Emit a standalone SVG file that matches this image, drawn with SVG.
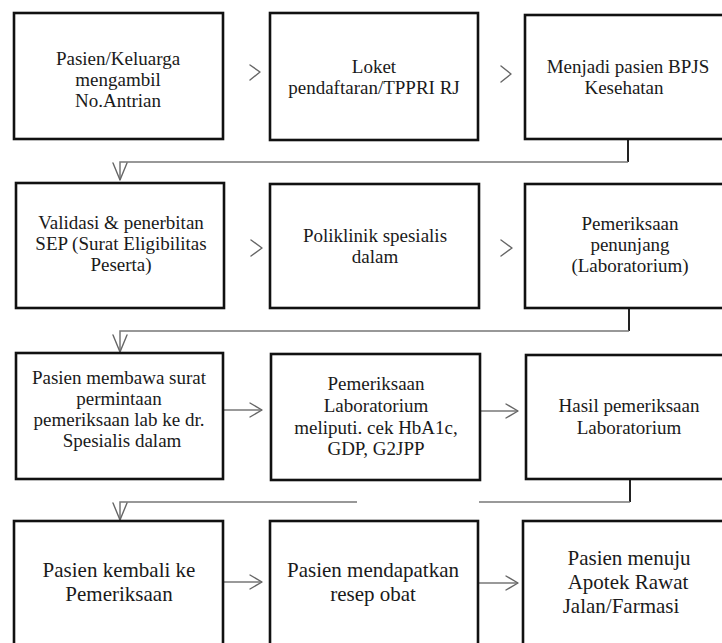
<svg xmlns="http://www.w3.org/2000/svg" width="722" height="643" viewBox="0 0 722 643">
<defs>
<style>
.box{fill:#fff;stroke:#111;stroke-width:2.6}
.t{font-family:"Liberation Serif","Times New Roman",serif;font-size:19px;fill:#1a1a1a;text-anchor:middle}
.t4{font-size:21px}
.ln{stroke:#777;stroke-width:1.5;fill:none}
.stub{stroke:#222;stroke-width:2;fill:none}
.head{stroke:#666;stroke-width:1.4;fill:none;stroke-linecap:round;stroke-linejoin:round}
</style>
<marker id="ah" viewBox="-14 -9 16 18" refX="0" refY="0" markerWidth="16" markerHeight="18" markerUnits="userSpaceOnUse" orient="auto">
<path d="M-12,-7 L0,0 L-12,7" fill="none" stroke="#666" stroke-width="1.4" stroke-linecap="round" stroke-linejoin="round"/>
</marker>
<marker id="dv" viewBox="-19 -9 21 18" refX="0" refY="0" markerWidth="21" markerHeight="18" markerUnits="userSpaceOnUse" orient="auto">
<path d="M-17,-7 L0,0 L-17,7" fill="none" stroke="#666" stroke-width="1.4" stroke-linecap="round" stroke-linejoin="round"/>
</marker>
</defs>
<rect width="722" height="643" fill="#fff"/>

<g id="connectors">
<path class="head" d="M250,65 L260,72 L250,80"/>
<path class="head" d="M501,66 L511,74 L501,82"/>
<path class="head" d="M251,240 L262,248 L251,256"/>
<path class="head" d="M501,240 L512,248 L501,256"/>
<line class="ln" x1="224" y1="410" x2="262" y2="410" marker-end="url(#ah)"/>
<line class="ln" x1="481" y1="411" x2="518" y2="411" marker-end="url(#ah)"/>
<line class="ln" x1="224" y1="582" x2="262" y2="582" marker-end="url(#ah)"/>
<line class="ln" x1="479" y1="583" x2="518" y2="583" marker-end="url(#ah)"/>
<line class="stub" x1="628" y1="139" x2="628" y2="162"/>
<polyline class="ln" points="628,162 120,162 120,180" marker-end="url(#dv)"/>
<line class="stub" x1="629" y1="308" x2="629" y2="331"/>
<polyline class="ln" points="629,331 120,331 120,352" marker-end="url(#dv)"/>
<line class="stub" x1="630" y1="479" x2="630" y2="502"/>
<line class="ln" x1="630" y1="502" x2="479" y2="502"/>
<polyline class="ln" points="357,502 120,502 120,520" marker-end="url(#dv)"/>
</g>

<g id="n1"><rect class="box" x="14" y="13" width="209" height="126"/>
<text class="t" x="118" y="65">Pasien/Keluarga</text><text class="t" x="118" y="86">mengambil</text><text class="t" x="118" y="107">No.Antrian</text></g>
<g id="n2"><rect class="box" x="270" y="13" width="208" height="127"/>
<text class="t" x="374" y="73">Loket</text><text class="t" x="374" y="94">pendaftaran/TPPRI RJ</text></g>
<g id="n3"><rect class="box" x="525" y="15" width="210" height="124"/>
<text class="t" x="628" y="73">Menjadi pasien BPJS</text><text class="t" x="624" y="94">Kesehatan</text></g>

<g id="n4"><rect class="box" x="16" y="183" width="208" height="125"/>
<text class="t" x="121" y="229">Validasi &amp; penerbitan</text><text class="t" x="121" y="250">SEP (Surat Eligibilitas</text><text class="t" x="121" y="271">Peserta)</text></g>
<g id="n5"><rect class="box" x="270" y="184" width="209" height="124"/>
<text class="t" x="375" y="242">Poliklinik spesialis</text><text class="t" x="375" y="263">dalam</text></g>
<g id="n6"><rect class="box" x="525" y="184" width="210" height="124"/>
<text class="t" x="630" y="230">Pemeriksaan</text><text class="t" x="630" y="251">penunjang</text><text class="t" x="630" y="272">(Laboratorium)</text></g>

<g id="n7"><rect class="box" x="16" y="353" width="207" height="126"/>
<text class="t" x="119" y="384">Pasien membawa surat</text><text class="t" x="119" y="405">permintaan</text><text class="t" x="119" y="426">pemeriksaan lab ke dr.</text><text class="t" x="122" y="447">Spesialis dalam</text></g>
<g id="n8"><rect class="box" x="271" y="354" width="209" height="126"/>
<text class="t" x="376" y="390">Pemeriksaan</text><text class="t" x="376" y="412">Laboratorium</text><text class="t" x="376" y="434">meliputi. cek HbA1c,</text><text class="t" x="376" y="455">GDP, G2JPP</text></g>
<g id="n9"><rect class="box" x="526" y="355" width="210" height="124"/>
<text class="t" x="629" y="412">Hasil pemeriksaan</text><text class="t" x="629" y="434">Laboratorium</text></g>

<g id="n10"><rect class="box" x="14" y="521" width="209" height="135"/>
<text class="t t4" x="119" y="577">Pasien kembali ke</text><text class="t t4" x="119" y="601">Pemeriksaan</text></g>
<g id="n11"><rect class="box" x="270" y="521" width="208" height="135"/>
<text class="t t4" x="373" y="577">Pasien mendapatkan</text><text class="t t4" x="373" y="601">resep obat</text></g>
<g id="n12"><rect class="box" x="523" y="521" width="212" height="135"/>
<text class="t t4" x="629" y="565">Pasien  menuju</text><text class="t t4" x="628" y="589">Apotek Rawat</text><text class="t t4" x="621" y="613">Jalan/Farmasi</text></g>
</svg>
